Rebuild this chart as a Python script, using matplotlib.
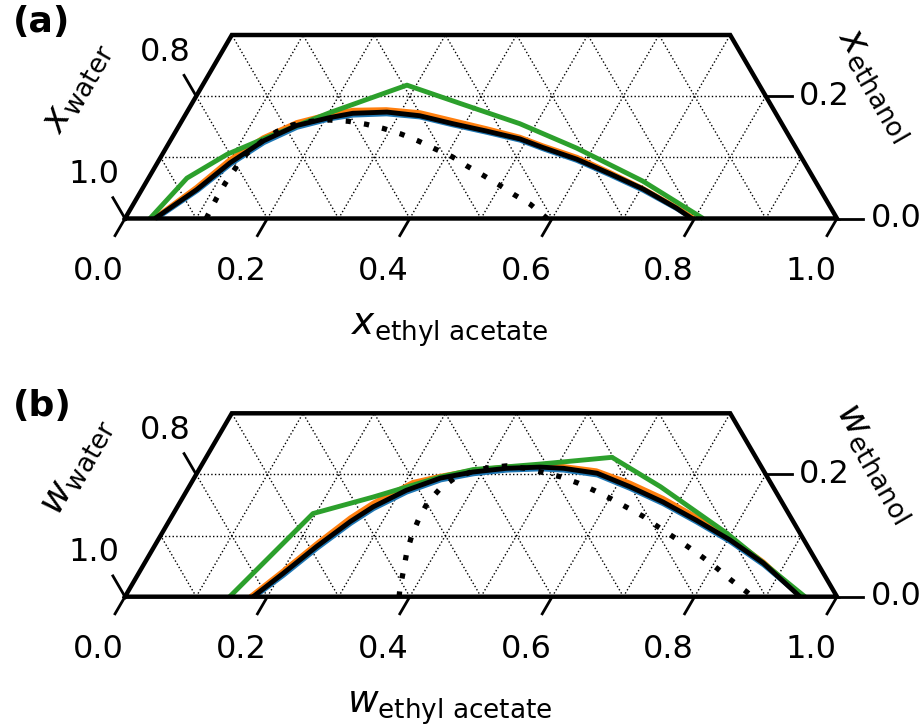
import numpy as np
import matplotlib.pyplot as plt

T_MAX = 0.3  # ethanol range shown

# ---- (a) mole fractions: ethyl acetate (ea) and ethanol (et) along each curve ----
xa_blue_ea = [0.044, 0.079, 0.104, 0.133, 0.167, 0.207, 0.236, 0.282, 0.331, 0.384,
              0.437, 0.491, 0.530, 0.587, 0.646, 0.705, 0.767, 0.797]
xa_blue_et = [0.0, 0.046, 0.089, 0.124, 0.149, 0.163, 0.169, 0.171, 0.166, 0.153,
              0.141, 0.128, 0.114, 0.095, 0.071, 0.046, 0.016, 0.0]
xa_orange_ea = [0.041, 0.075, 0.099, 0.128, 0.163, 0.203, 0.232, 0.278, 0.328, 0.381,
                0.434, 0.488, 0.527, 0.585, 0.644, 0.703, 0.766, 0.799]
xa_orange_et = [0.0, 0.051, 0.096, 0.132, 0.157, 0.171, 0.177, 0.178, 0.173, 0.160,
                0.147, 0.133, 0.119, 0.100, 0.075, 0.049, 0.018, 0.0]
xa_green_ea = [0.035, 0.054, 0.091, 0.129, 0.166, 0.201, 0.287, 0.377, 0.477, 0.577, 0.697, 0.812]
xa_green_et = [0.0, 0.066, 0.105, 0.130, 0.152, 0.173, 0.218, 0.188, 0.155, 0.115, 0.061, 0.0]
xa_black_ea = [0.042, 0.077, 0.102, 0.131, 0.165, 0.205, 0.234, 0.281, 0.330, 0.383,
               0.436, 0.490, 0.529, 0.586, 0.645, 0.704, 0.766, 0.796]
xa_black_et = [0.0, 0.047, 0.091, 0.127, 0.152, 0.165, 0.172, 0.174, 0.168, 0.155,
               0.143, 0.130, 0.116, 0.097, 0.073, 0.048, 0.017, 0.0]
xa_dot_ea = [0.114, 0.112, 0.112, 0.114, 0.118, 0.129, 0.142, 0.159, 0.183, 0.207, 0.234, 0.262,
             0.290, 0.319, 0.348, 0.378, 0.409, 0.437, 0.467, 0.496, 0.527, 0.558, 0.593]
xa_dot_et = [0.0, 0.033, 0.058, 0.083, 0.106, 0.126, 0.142, 0.153, 0.159, 0.161, 0.159, 0.154,
             0.147, 0.138, 0.127, 0.114, 0.101, 0.086, 0.071, 0.056, 0.039, 0.023, 0.0]

# ---- (b) mass fractions ----
wb_blue_ea = [0.182, 0.205, 0.230, 0.257, 0.277, 0.310, 0.348, 0.389, 0.433, 0.479,
              0.513, 0.564, 0.621, 0.680, 0.742, 0.805, 0.871, 0.950]
wb_blue_et = [0.0, 0.035, 0.079, 0.120, 0.144, 0.171, 0.191, 0.201, 0.207, 0.209,
              0.207, 0.199, 0.177, 0.152, 0.122, 0.090, 0.052, 0.0]
wb_orange_ea = [0.176, 0.201, 0.226, 0.252, 0.272, 0.311, 0.344, 0.386, 0.430, 0.476,
                0.509, 0.559, 0.616, 0.675, 0.738, 0.802, 0.868, 0.950]
wb_orange_et = [0.0, 0.042, 0.087, 0.129, 0.153, 0.187, 0.197, 0.207, 0.212, 0.214,
                0.213, 0.206, 0.186, 0.161, 0.130, 0.096, 0.057, 0.0]
wb_green_ea = [0.147, 0.196, 0.267, 0.345, 0.385, 0.475, 0.570, 0.662, 0.793, 0.955]
wb_green_et = [0.0, 0.136, 0.163, 0.196, 0.208, 0.217, 0.228, 0.180, 0.104, 0.0]
wb_black_ea = [0.180, 0.203, 0.228, 0.255, 0.275, 0.308, 0.346, 0.387, 0.431, 0.477,
               0.511, 0.562, 0.619, 0.678, 0.740, 0.803, 0.869, 0.948]
wb_black_et = [0.0, 0.038, 0.082, 0.123, 0.147, 0.174, 0.194, 0.204, 0.210, 0.212,
               0.210, 0.202, 0.180, 0.155, 0.125, 0.093, 0.055, 0.0]
wb_dot_ea = [0.385, 0.380, 0.370, 0.360, 0.353, 0.349, 0.348, 0.354, 0.366, 0.384, 0.405, 0.429,
             0.457, 0.486, 0.514, 0.543, 0.574, 0.603, 0.632, 0.663, 0.692, 0.721, 0.751, 0.780,
             0.809, 0.838, 0.869, 0.881]
wb_dot_et = [0.0, 0.012, 0.042, 0.071, 0.099, 0.127, 0.154, 0.176, 0.194, 0.204, 0.211, 0.214,
             0.210, 0.203, 0.196, 0.186, 0.173, 0.160, 0.146, 0.131, 0.114, 0.098, 0.081, 0.064,
             0.046, 0.027, 0.008, 0.0]

ea_ticks = [0.0, 0.2, 0.4, 0.6, 0.8, 1.0]
water_ticks = [0.8, 1.0]
et_ticks = [0.0, 0.2]


def tern(ea, et):
    """(ethyl acetate, ethanol) -> cartesian x, y (y kept in ethanol units)"""
    ea = np.asarray(ea, float); et = np.asarray(et, float)
    return ea + et / 2, et


def panel(ax, sym, curves, dotted):
    ax.set_xlim(0, 1); ax.set_ylim(0, T_MAX); ax.axis("off")
    grid = dict(color="k", lw=1.0, ls=":", clip_on=False, zorder=1)
    # grid lines every 0.1
    for v in np.arange(1, 10) / 10:
        tt = min(T_MAX, 1 - v)
        ax.plot(*tern([v, v], [0, tt]), **grid)          # const ethyl acetate
        tt = min(T_MAX, v)
        ax.plot(*tern([v, v - tt], [0, tt]), **grid)     # const water
    for v in (0.1, 0.2):
        ax.plot(*tern([0, 1 - v], [v, v]), **grid)       # const ethanol

    # curves
    for (ea, et), c in curves:
        ax.plot(*tern(ea, et), color=c, lw=3.5, solid_capstyle="butt", zorder=3, clip_on=False)
    ax.plot(*tern(*dotted), color="k", lw=3.8, ls=(0, (1, 2.5)), zorder=4, clip_on=False)

    # frame
    fx, fy = tern([0, 1, 1 - T_MAX, 0, 0], [0, 0, T_MAX, T_MAX, 0])
    ax.plot(fx, fy, color="k", lw=3.2, zorder=5, clip_on=False, solid_joinstyle="miter")

    tk = dict(color="k", lw=2, clip_on=False, zorder=5)
    fs = 23
    for v in ea_ticks:
        ax.plot([v, v - 0.014], [0, -0.028], **tk)
        ax.text(v - 0.037, -0.086, f"{v:.1f}", fontsize=fs, ha="center", va="center")
    for v in water_ticks:
        t0 = 1 - v
        ax.plot([t0 / 2, t0 / 2 - 0.017], [t0, t0 + 0.034], **tk)
        ax.text(t0 / 2 - 0.044, t0 + 0.072, f"{v:.1f}", fontsize=fs, ha="center", va="center")
    for v in et_ticks:
        x0 = 1 - v / 2
        ax.plot([x0, x0 + 0.0365], [v, v], **tk)
        ax.text(x0 + 0.047, v, f"{v:.1f}", fontsize=fs, ha="left", va="center")

    ax.text(0.4565, -0.19, rf"${sym}_\mathrm{{ethyl\ acetate}}$", fontsize=27,
            ha="center", va="baseline")
    ax.text(-0.068, 0.215, rf"${sym}_\mathrm{{water}}$", fontsize=27, rotation=60,
            ha="center", va="center")
    ax.text(1.056, 0.22, rf"${sym}_\mathrm{{ethanol}}$", fontsize=27, rotation=-60,
            ha="center", va="center")


fig = plt.figure(figsize=(9.23, 7.27), dpi=100)
W, H = 923, 727
ax_a = fig.add_axes([125 / W, (H - 218.5) / H, 712 / W, 183.5 / H])
ax_b = fig.add_axes([125 / W, (H - 596.7) / H, 712 / W, 183.4 / H])

panel(ax_a, "x",
      [((xa_blue_ea, xa_blue_et), "tab:blue"),
       ((xa_orange_ea, xa_orange_et), "tab:orange"),
       ((xa_green_ea, xa_green_et), "tab:green"),
       ((xa_black_ea, xa_black_et), "k")],
      (xa_dot_ea, xa_dot_et))
panel(ax_b, "w",
      [((wb_blue_ea, wb_blue_et), "tab:blue"),
       ((wb_orange_ea, wb_orange_et), "tab:orange"),
       ((wb_green_ea, wb_green_et), "tab:green"),
       ((wb_black_ea, wb_black_et), "k")],
      (wb_dot_ea, wb_dot_et))

fig.text(42 / W, 1 - 22 / H, "(a)", fontsize=26, fontweight="bold", ha="center", va="center")
fig.text(42 / W, 1 - 406 / H, "(b)", fontsize=26, fontweight="bold", ha="center", va="center")

fig.savefig("out.png", dpi=100)
